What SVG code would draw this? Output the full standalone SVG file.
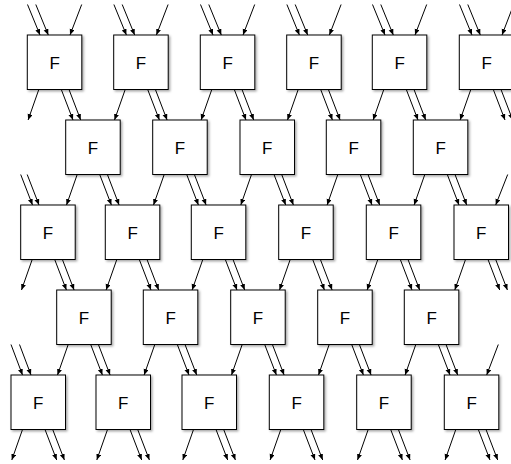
<svg xmlns="http://www.w3.org/2000/svg" width="511" height="464" viewBox="0 0 511 464">
<style>
.box{fill:#fff;stroke:#000;stroke-width:1;filter:url(#sh)}
.lbl{font-family:"Liberation Sans",Arial,sans-serif;font-size:17px;fill:#000;text-anchor:middle}
.c line{stroke:#000;stroke-width:1;marker-end:url(#ah)}
</style>
<defs>
<filter id="sh" x="-20%" y="-20%" width="150%" height="150%">
<feDropShadow dx="1.5" dy="1.5" stdDeviation="1" flood-color="#000" flood-opacity="0.35"/>
</filter>
<marker id="ah" markerUnits="userSpaceOnUse" markerWidth="7" markerHeight="6" refX="6" refY="2.5" orient="auto">
<path d="M0,0 L6,2.5 L0,5 z" fill="#000"/>
</marker>
</defs>
<g id="connectors" class="c">
<!-- row1 dangling inputs -->
<line x1="27.5" y1="4.5" x2="40" y2="35"/><line x1="35.8" y1="4.5" x2="48.3" y2="35"/><line x1="81.7" y1="4.5" x2="70" y2="35"/>
<line x1="113.9" y1="4.5" x2="126.4" y2="35"/><line x1="122.2" y1="4.5" x2="134.7" y2="35"/><line x1="168.1" y1="4.5" x2="156.4" y2="35"/>
<line x1="200.5" y1="4.5" x2="213" y2="35"/><line x1="208.8" y1="4.5" x2="221.3" y2="35"/><line x1="254.7" y1="4.5" x2="243" y2="35"/>
<line x1="286.9" y1="4.5" x2="299.4" y2="35"/><line x1="295.2" y1="4.5" x2="307.7" y2="35"/><line x1="341.1" y1="4.5" x2="329.4" y2="35"/>
<line x1="372.5" y1="4.5" x2="385" y2="35"/><line x1="380.8" y1="4.5" x2="393.3" y2="35"/><line x1="426.7" y1="4.5" x2="415" y2="35"/>
<line x1="459.5" y1="4.5" x2="472" y2="35"/><line x1="467.8" y1="4.5" x2="480.3" y2="35"/><line x1="513.7" y1="4.5" x2="502" y2="35"/>
<!-- row1 -> row2 -->
<line x1="38.8" y1="89.5" x2="28.1" y2="120"/><line x1="61.3" y1="89.5" x2="73" y2="120"/><line x1="69" y1="89.5" x2="80.7" y2="120"/>
<line x1="125.2" y1="89.5" x2="114.5" y2="120"/><line x1="147.7" y1="89.5" x2="159.4" y2="120"/><line x1="155.4" y1="89.5" x2="167.1" y2="120"/>
<line x1="211.8" y1="89.5" x2="201.1" y2="120"/><line x1="234.3" y1="89.5" x2="246" y2="120"/><line x1="242" y1="89.5" x2="253.7" y2="120"/>
<line x1="298.2" y1="89.5" x2="287.5" y2="120"/><line x1="320.7" y1="89.5" x2="332.4" y2="120"/><line x1="328.4" y1="89.5" x2="340.1" y2="120"/>
<line x1="383.8" y1="89.5" x2="373.1" y2="120"/><line x1="406.3" y1="89.5" x2="418" y2="120"/><line x1="414" y1="89.5" x2="425.7" y2="120"/>
<line x1="470.8" y1="89.5" x2="460.1" y2="120"/><line x1="493.3" y1="89.5" x2="505" y2="120"/><line x1="501" y1="89.5" x2="512.7" y2="120"/>
<!-- row2 -> row3 -->
<line x1="77.2" y1="174.5" x2="66.5" y2="205"/><line x1="99.7" y1="174.5" x2="111.4" y2="205"/><line x1="107.4" y1="174.5" x2="119.1" y2="205"/>
<line x1="164.2" y1="174.5" x2="153.5" y2="205"/><line x1="186.7" y1="174.5" x2="198.4" y2="205"/><line x1="194.4" y1="174.5" x2="206.1" y2="205"/>
<line x1="251.5" y1="174.5" x2="240.8" y2="205"/><line x1="274" y1="174.5" x2="285.7" y2="205"/><line x1="281.7" y1="174.5" x2="293.4" y2="205"/>
<line x1="337.8" y1="174.5" x2="327.1" y2="205"/><line x1="360.3" y1="174.5" x2="372" y2="205"/><line x1="368" y1="174.5" x2="379.7" y2="205"/>
<line x1="424.8" y1="174.5" x2="414.1" y2="205"/><line x1="447.3" y1="174.5" x2="459" y2="205"/><line x1="455" y1="174.5" x2="466.7" y2="205"/>
<!-- row3 dangling inputs -->
<line x1="20.7" y1="174.5" x2="32.5" y2="205"/><line x1="27.2" y1="174.5" x2="39" y2="205"/>
<line x1="507.7" y1="174.5" x2="495.7" y2="205"/>
<!-- row3 -> row4 -->
<line x1="32.2" y1="259.5" x2="21.5" y2="290"/><line x1="54.7" y1="259.5" x2="66.4" y2="290"/><line x1="62.4" y1="259.5" x2="74.1" y2="290"/>
<line x1="116.8" y1="259.5" x2="106.1" y2="290"/><line x1="139.3" y1="259.5" x2="151" y2="290"/><line x1="147" y1="259.5" x2="158.7" y2="290"/>
<line x1="202.8" y1="259.5" x2="192.1" y2="290"/><line x1="225.3" y1="259.5" x2="237" y2="290"/><line x1="233" y1="259.5" x2="244.7" y2="290"/>
<line x1="290.2" y1="259.5" x2="279.5" y2="290"/><line x1="312.7" y1="259.5" x2="324.4" y2="290"/><line x1="320.4" y1="259.5" x2="332.1" y2="290"/>
<line x1="377.8" y1="259.5" x2="367.1" y2="290"/><line x1="400.3" y1="259.5" x2="412" y2="290"/><line x1="408" y1="259.5" x2="419.7" y2="290"/>
<line x1="465.5" y1="259.5" x2="454.8" y2="290"/><line x1="488" y1="259.5" x2="499.7" y2="290"/><line x1="495.7" y1="259.5" x2="507.4" y2="290"/>
<!-- row4 -> row5 -->
<line x1="68.2" y1="344.5" x2="57.5" y2="375"/><line x1="90.7" y1="344.5" x2="102.4" y2="375"/><line x1="98.4" y1="344.5" x2="110.1" y2="375"/>
<line x1="154.8" y1="344.5" x2="144.1" y2="375"/><line x1="177.3" y1="344.5" x2="189" y2="375"/><line x1="185" y1="344.5" x2="196.7" y2="375"/>
<line x1="242.2" y1="344.5" x2="231.5" y2="375"/><line x1="264.7" y1="344.5" x2="276.4" y2="375"/><line x1="272.4" y1="344.5" x2="284.1" y2="375"/>
<line x1="329.2" y1="344.5" x2="318.5" y2="375"/><line x1="351.7" y1="344.5" x2="363.4" y2="375"/><line x1="359.4" y1="344.5" x2="371.1" y2="375"/>
<line x1="415.8" y1="344.5" x2="405.1" y2="375"/><line x1="438.3" y1="344.5" x2="450" y2="375"/><line x1="446" y1="344.5" x2="457.7" y2="375"/>
<!-- row5 dangling inputs -->
<line x1="11" y1="344.5" x2="22.5" y2="375"/><line x1="19.5" y1="344.5" x2="31" y2="375"/>
<line x1="498.3" y1="344.5" x2="486.7" y2="375"/>
<!-- row5 outputs -->
<line x1="22.5" y1="429.5" x2="11.8" y2="460"/><line x1="45" y1="429.5" x2="56.7" y2="460"/><line x1="52.7" y1="429.5" x2="64.4" y2="460"/>
<line x1="107.5" y1="429.5" x2="96.8" y2="460"/><line x1="130" y1="429.5" x2="141.7" y2="460"/><line x1="137.7" y1="429.5" x2="149.4" y2="460"/>
<line x1="193.5" y1="429.5" x2="182.8" y2="460"/><line x1="216" y1="429.5" x2="227.7" y2="460"/><line x1="223.7" y1="429.5" x2="235.4" y2="460"/>
<line x1="280.8" y1="429.5" x2="270.1" y2="460"/><line x1="303.3" y1="429.5" x2="315" y2="460"/><line x1="311" y1="429.5" x2="322.7" y2="460"/>
<line x1="368.2" y1="429.5" x2="357.5" y2="460"/><line x1="390.7" y1="429.5" x2="402.4" y2="460"/><line x1="398.4" y1="429.5" x2="410.1" y2="460"/>
<line x1="455.8" y1="429.5" x2="445.1" y2="460"/><line x1="478.3" y1="429.5" x2="490" y2="460"/><line x1="486" y1="429.5" x2="497.7" y2="460"/>
</g>
<g id="r1c1"><rect class="box" x="27.3" y="35" width="54.5" height="54.5"/><text class="lbl" x="54.6" y="69.3">F</text></g>
<g id="r1c2"><rect class="box" x="113.7" y="35" width="54.5" height="54.5"/><text class="lbl" x="141" y="69.3">F</text></g>
<g id="r1c3"><rect class="box" x="200.3" y="35" width="54.5" height="54.5"/><text class="lbl" x="227.6" y="69.3">F</text></g>
<g id="r1c4"><rect class="box" x="286.7" y="35" width="54.5" height="54.5"/><text class="lbl" x="314" y="69.3">F</text></g>
<g id="r1c5"><rect class="box" x="372.3" y="35" width="54.5" height="54.5"/><text class="lbl" x="399.6" y="69.3">F</text></g>
<g id="r1c6"><rect class="box" x="459.3" y="35" width="54.5" height="54.5"/><text class="lbl" x="486.6" y="69.3">F</text></g>
<g id="r2c1"><rect class="box" x="65.7" y="120" width="54.5" height="54.5"/><text class="lbl" x="93" y="154.3">F</text></g>
<g id="r2c2"><rect class="box" x="152.7" y="120" width="54.5" height="54.5"/><text class="lbl" x="180" y="154.3">F</text></g>
<g id="r2c3"><rect class="box" x="240" y="120" width="54.5" height="54.5"/><text class="lbl" x="267.3" y="154.3">F</text></g>
<g id="r2c4"><rect class="box" x="326.3" y="120" width="54.5" height="54.5"/><text class="lbl" x="353.6" y="154.3">F</text></g>
<g id="r2c5"><rect class="box" x="413.3" y="120" width="54.5" height="54.5"/><text class="lbl" x="440.6" y="154.3">F</text></g>
<g id="r3c1"><rect class="box" x="20.7" y="205" width="54.5" height="54.5"/><text class="lbl" x="48" y="239.3">F</text></g>
<g id="r3c2"><rect class="box" x="105.3" y="205" width="54.5" height="54.5"/><text class="lbl" x="132.6" y="239.3">F</text></g>
<g id="r3c3"><rect class="box" x="191.3" y="205" width="54.5" height="54.5"/><text class="lbl" x="218.6" y="239.3">F</text></g>
<g id="r3c4"><rect class="box" x="278.7" y="205" width="54.5" height="54.5"/><text class="lbl" x="306" y="239.3">F</text></g>
<g id="r3c5"><rect class="box" x="366.3" y="205" width="54.5" height="54.5"/><text class="lbl" x="393.6" y="239.3">F</text></g>
<g id="r3c6"><rect class="box" x="454" y="205" width="54.5" height="54.5"/><text class="lbl" x="481.3" y="239.3">F</text></g>
<g id="r4c1"><rect class="box" x="56.7" y="290" width="54.5" height="54.5"/><text class="lbl" x="84" y="324.3">F</text></g>
<g id="r4c2"><rect class="box" x="143.3" y="290" width="54.5" height="54.5"/><text class="lbl" x="170.6" y="324.3">F</text></g>
<g id="r4c3"><rect class="box" x="230.7" y="290" width="54.5" height="54.5"/><text class="lbl" x="258" y="324.3">F</text></g>
<g id="r4c4"><rect class="box" x="317.7" y="290" width="54.5" height="54.5"/><text class="lbl" x="345" y="324.3">F</text></g>
<g id="r4c5"><rect class="box" x="404.3" y="290" width="54.5" height="54.5"/><text class="lbl" x="431.6" y="324.3">F</text></g>
<g id="r5c1"><rect class="box" x="11" y="375" width="54.5" height="54.5"/><text class="lbl" x="38.3" y="409.3">F</text></g>
<g id="r5c2"><rect class="box" x="96" y="375" width="54.5" height="54.5"/><text class="lbl" x="123.3" y="409.3">F</text></g>
<g id="r5c3"><rect class="box" x="182" y="375" width="54.5" height="54.5"/><text class="lbl" x="209.3" y="409.3">F</text></g>
<g id="r5c4"><rect class="box" x="269.3" y="375" width="54.5" height="54.5"/><text class="lbl" x="296.6" y="409.3">F</text></g>
<g id="r5c5"><rect class="box" x="356.7" y="375" width="54.5" height="54.5"/><text class="lbl" x="384" y="409.3">F</text></g>
<g id="r5c6"><rect class="box" x="444.3" y="375" width="54.5" height="54.5"/><text class="lbl" x="471.6" y="409.3">F</text></g>
</svg>
